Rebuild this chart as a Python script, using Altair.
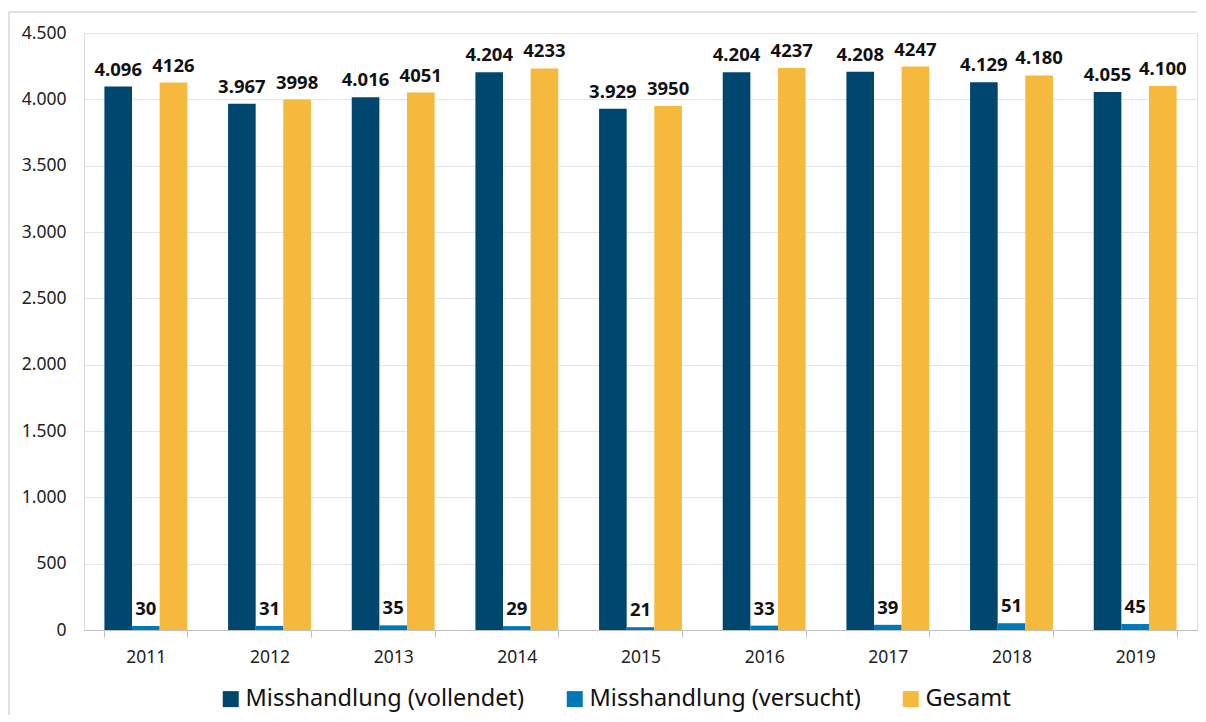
import altair as alt
import pandas as pd

years = ["2011", "2012", "2013", "2014", "2015", "2016", "2017", "2018", "2019"]
series = ["Misshandlung (vollendet)", "Misshandlung (versucht)", "Gesamt"]
vollendet = [4096, 3967, 4016, 4204, 3929, 4204, 4208, 4129, 4055]
versucht = [30, 31, 35, 29, 21, 33, 39, 51, 45]
gesamt = [4126, 3998, 4051, 4233, 3950, 4237, 4247, 4180, 4100]
vollendet_labels = ["4.096", "3.967", "4.016", "4.204", "3.929", "4.204", "4.208", "4.129", "4.055"]
versucht_labels = ["30", "31", "35", "29", "21", "33", "39", "51", "45"]
gesamt_labels = ["4126", "3998", "4051", "4233", "3950", "4237", "4247", "4.180", "4.100"]
colors = ["#00476F", "#0077B6", "#F5B93E"]

rows = []
for vals, labs, s in [(vollendet, vollendet_labels, series[0]),
                      (versucht, versucht_labels, series[1]),
                      (gesamt, gesamt_labels, series[2])]:
    for y, v, l in zip(years, vals, labs):
        rows.append({"Jahr": y, "Serie": s, "Wert": v, "Label": l})
df = pd.DataFrame(rows)

FONT = "Noto Sans"

x = alt.X("Jahr:N", sort=years, title=None,
          scale=alt.Scale(paddingInner=0.33, paddingOuter=0.165),
          axis=alt.Axis(labelAngle=0, labelFontSize=17.5, labelColor="#222222", labelFont=FONT,
                        tickBand="extent", tickSize=7, tickColor="#BFBFBF",
                        domainColor="#BFBFBF", labelPadding=11, grid=False))
xo = alt.XOffset("Serie:N", sort=series)

bars = alt.Chart(df).mark_bar().encode(
    x=x, xOffset=xo,
    y=alt.Y("Wert:Q", title=None,
            scale=alt.Scale(domain=[0, 4500]),
            axis=alt.Axis(values=list(range(0, 4501, 500)),
                          labelExpr="replace(format(datum.value, ',d'), ',', '.')",
                          labelFontSize=17.5, labelColor="#222222", labelFont=FONT,
                          ticks=False, domainColor="#D9D9D9", gridColor="#E3E6E8",
                          labelPadding=18)),
    color=alt.Color("Serie:N", sort=series,
                    scale=alt.Scale(domain=series, range=colors),
                    legend=alt.Legend(title=None, orient="none", direction="horizontal",
                                      legendX=135, legendY=654,
                                      symbolType="square", symbolSize=256, symbolStrokeWidth=0,
                                      labelFontSize=23.5, labelFont=FONT, labelColor="#111111",
                                      labelOffset=3, columnPadding=38, labelLimit=400))
)

text = alt.Chart(df).mark_text(baseline="alphabetic", dy=-11, fontSize=18.5, fontWeight="bold",
                               font=FONT, color="#111111").encode(
    x=alt.X("Jahr:N", sort=years), xOffset=xo,
    y="Wert:Q", text="Label:N"
)

frame_top = alt.Chart(pd.DataFrame({"a": [0]})).mark_rule(
    stroke="#D6D6D6", strokeWidth=1.5).encode(
    x=alt.value(-75), x2=alt.value(1113), y=alt.value(-21)
)
frame_left = alt.Chart(pd.DataFrame({"a": [0]})).mark_rule(
    stroke="#D6D6D6", strokeWidth=1.5).encode(
    x=alt.value(-75), y=alt.value(-21), y2=alt.value(682)
)

chart = alt.layer(frame_top, frame_left, bars, text).properties(
    width=1113, height=597,
    padding={"left": 0, "top": 3, "right": 0, "bottom": 0}
).configure_view(stroke=None).configure(background="white")

chart.save("out.html", embed_options={"renderer": "svg", "actions": False})
